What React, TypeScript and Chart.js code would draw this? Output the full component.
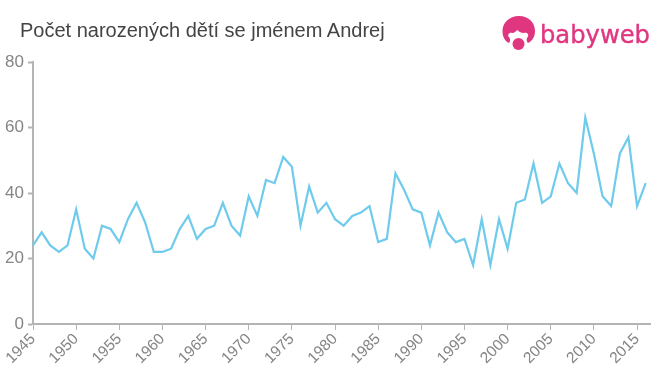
import React, { useEffect, useRef } from "react";
import { Chart, registerables } from "chart.js";

Chart.register(...registerables);

const title = "Počet narozených dětí se jménem Andrej";
const brand = "babyweb";
const startYear = 1945;
const endYear = 2016;
const yearStep = 5;
const yMax = 80;
const yStep = 20;
const values = [
  24, 28, 24, 22, 24, 35, 23, 20, 30, 29, 25, 32, 37, 31, 22, 22, 23, 29, 33, 26,
  29, 30, 37, 30, 27, 39, 33, 44, 43, 51, 48, 30, 42, 34, 37, 32, 30, 33, 34, 36,
  25, 26, 46, 41, 35, 34, 24, 34, 28, 25, 26, 18, 32, 18, 32, 23, 37, 38, 49, 37,
  39, 49, 43, 40, 63, 52, 39, 36, 52, 57, 36, 43,
];
const points = values.map((y, i) => ({ x: startYear + i, y }));

const AXIS = "#b4b4b4";
const LABEL = "#858585";
const FONT = '"Liberation Sans", Arial, sans-serif';
const PINK = "#e0357f";

export default function App() {
  const ref = useRef<HTMLCanvasElement>(null);
  useEffect(() => {
    const chart = new Chart(ref.current!, {
      type: "line",
      data: {
        datasets: [
          {
            data: points,
            borderColor: "#6fcbec",
            borderWidth: 2.2,
            pointRadius: 0,
            tension: 0,
            clip: false,
          },
        ],
      },
      options: {
        animation: false,
        responsive: false,
        layout: { padding: { top: 62, right: 10, left: 0, bottom: 0 } },
        plugins: { legend: { display: false }, tooltip: { enabled: false } },
        scales: {
          x: {
            type: "linear",
            min: startYear,
            max: endYear + 0.5,
            border: { color: AXIS, width: 2 },
            grid: { drawOnChartArea: false, color: AXIS, tickLength: 6, tickWidth: 1 },
            ticks: {
              stepSize: yearStep,
              includeBounds: false,
              minRotation: 45,
              maxRotation: 45,
              padding: 0,
              color: LABEL,
              font: { family: FONT, size: 15.5 },
              callback: (v: any) => String(v),
            },
            afterFit: (s: any) => {
              s.height = 51;
              s.paddingLeft = 0;
              s.paddingRight = 0;
            },
          },
          y: {
            min: 0,
            max: yMax,
            border: { color: AXIS, width: 2 },
            grid: { drawOnChartArea: false, color: AXIS, tickLength: 5, tickWidth: 2 },
            ticks: {
              stepSize: yStep,
              padding: 4,
              color: LABEL,
              font: { family: FONT, size: 17 },
            },
            afterFit: (s: any) => {
              s.width = 33;
              s.paddingTop = 0;
              s.paddingBottom = 0;
            },
          },
        },
      },
    });
    return () => chart.destroy();
  }, []);

  return (
    <div style={{ position: "fixed", left: 0, top: 0, width: 660, height: 375, background: "#fff" }}>
      <canvas ref={ref} width={660} height={375} style={{ display: "block" }} />
      <div
        style={{
          position: "absolute",
          left: 20,
          top: 19,
          font: `20px ${FONT}`,
          color: "#444444",
          whiteSpace: "nowrap",
        }}
      >
        {title}
      </div>
      <svg width={170} height={55} style={{ position: "absolute", left: 490, top: 5 }}>
        <path
          d="M29 11 C19 11 12.5 18 12.5 26 C12.5 32 15 36 19 38 C21 36 20 33 18.5 31.5 C17.5 29 20 27 22.5 28 C24.5 28 25.5 26 27.5 25 C29 27 31 28 34 28 C37 27 39 29.5 38 31.5 C36.5 33 36 36 38 38 C42 36 45 32 45 26 C45 18 39 11 29 11 Z"
          fill={PINK}
        />
        <circle cx={28.5} cy={39} r={6} fill={PINK} />
        <text
          x={50}
          y={38}
          fill={PINK}
          stroke={PINK}
          strokeWidth={0.4}
          fontFamily="'DejaVu Sans', sans-serif"
          fontSize={25}
          textLength={110}
          lengthAdjust="spacingAndGlyphs"
        >
          {brand}
        </text>
      </svg>
    </div>
  );
}
